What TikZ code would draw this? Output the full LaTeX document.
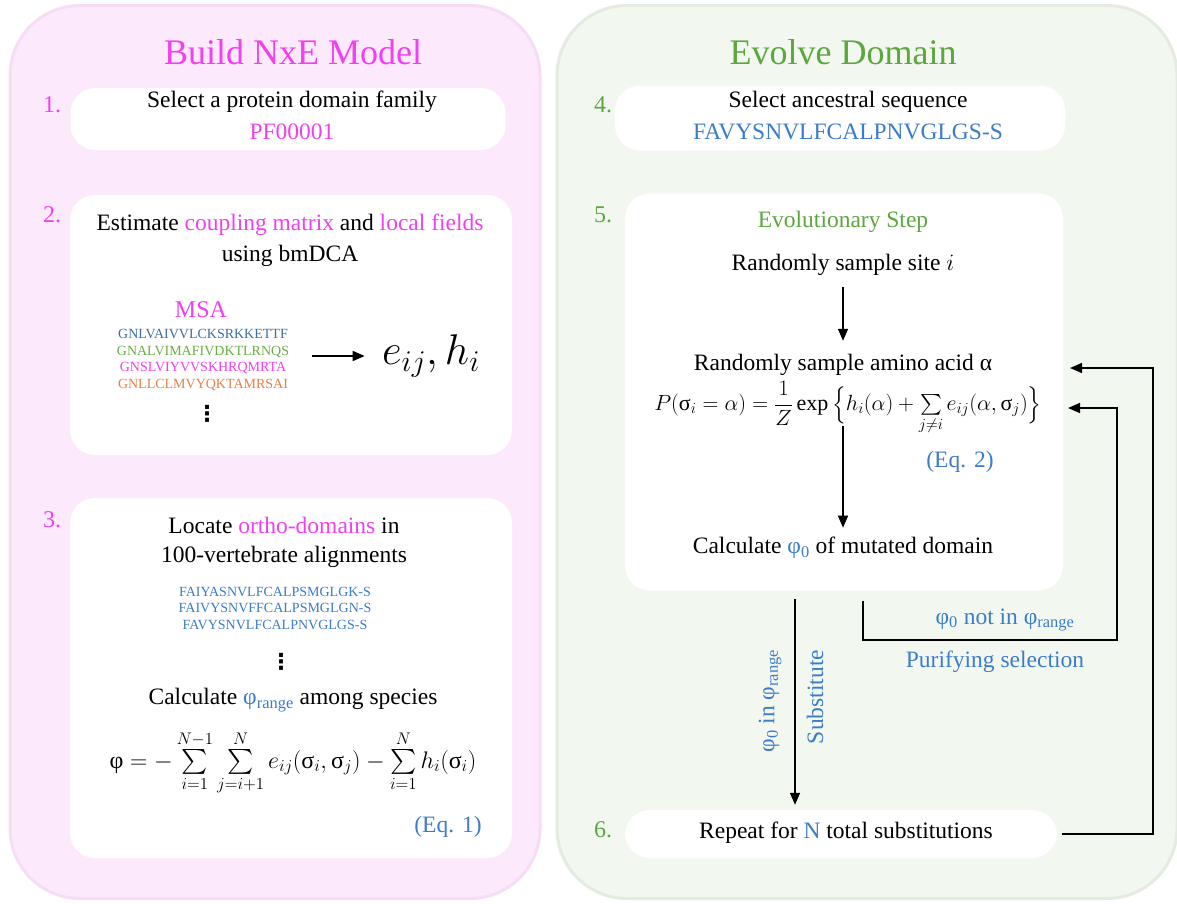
\RequirePackage{fix-cm}
\documentclass[tikz,border=0pt]{standalone}
\usepackage{amsmath}
\usepackage{fontspec}
\setmainfont{Liberation Serif}
\newfontfamily\dotsfont{DejaVu Sans}
\usetikzlibrary{positioning,arrows.meta}

\definecolor{nxepink}{HTML}{F23FEF}
\definecolor{nxegreen}{HTML}{5DA641}
\definecolor{nxeblue}{HTML}{3D7CC9}
\definecolor{pinkfill}{HTML}{FCEAFC}
\definecolor{pinkedge}{HTML}{F6DDF5}
\definecolor{greenfill}{HTML}{F2F8EF}
\definecolor{greenedge}{HTML}{E3ECDF}
\definecolor{seqslate}{HTML}{3F6E9A}
\definecolor{seqgreen}{HTML}{6AAE45}
\definecolor{seqorange}{HTML}{E8804A}

\newcommand{\sg}{\text{σ}}

\begin{document}
\begin{tikzpicture}[x=1pt, y=-1pt,
  font=\fontsize{23.5}{28}\selectfont,
  panel/.style={draw, line width=3pt, rounded corners=70pt},
  stepbox/.style={fill=white, rounded corners=25pt},
  steplabel/.style={font=\fontsize{24}{28}\selectfont},
  seq/.style={font=\fontsize{14}{16.5}\selectfont, align=center},
  dots/.style={font=\dotsfont\bfseries\fontsize{22}{24}\selectfont},
  arr/.style={-{Triangle[length=12pt,width=10pt]}, line width=1.5pt}]
\useasboundingbox (0,0) rectangle (1177,903);

% panels
\node[panel, draw=pinkedge, fill=pinkfill, minimum width=530pt, minimum height=893pt] (buildPanel) at (275,452) {};
\node[panel, draw=greenedge, fill=greenfill, minimum width=620pt, minimum height=893pt] (evolvePanel) at (867,452) {};
\node[text=nxepink, font=\fontsize{36}{40}\selectfont] (buildTitle) at (293,52) {Build NxE Model};
\node[text=nxegreen, font=\fontsize{36}{40}\selectfont] (evolveTitle) at (843,52) {Evolve Domain};

% left column
\node[stepbox, minimum width=435pt, minimum height=62pt] (famBox) at (288,119) {};
\node[steplabel, text=nxepink] (oneLbl) at (52,105) {1.};
\node (famText) at (292,102) {Select a protein domain family};
\node[text=nxepink] (famId) at (292,132) {PF00001};

\node[stepbox, minimum width=442pt, minimum height=260pt] (dcaBox) at (291,325) {};
\node[steplabel, text=nxepink] (twoLbl) at (52,215) {2.};
\node (dcaText) at (290,225) {Estimate {\color{nxepink}coupling matrix} and {\color{nxepink}local fields}};
\node (dcaText2) at (290,256) {using bmDCA};
\node[text=nxepink, font=\fontsize{24}{28}\selectfont] (msaLbl) at (201,310) {MSA};
\node[seq] (msaSeqs) at (203,360) {{\color{seqslate}GNLVAIVVLCKSRKKETTF}\\{\color{seqgreen}GNALVIMAFIVDKTLRNQS}\\{\color{nxepink}GNSLVIYVVSKHRQMRTA}\\{\color{seqorange}GNLLCLMVYQKTAMRSAI}};
\node[dots] (msaDots) at (207,414) {⋮};
\node[font=\fontsize{43}{48}\selectfont] (params) at (431,356) {$e_{ij},h_i$};
\coordinate (msaOut) at (312,356);
\draw[arr, shorten >=14pt] (msaOut) -- (params.west |- msaOut);

\node[stepbox, minimum width=442pt, minimum height=360pt] (orthoBox) at (291,678) {};
\node[steplabel, text=nxepink] (threeLbl) at (52,520) {3.};
\node[align=center] (orthoText) at (284,542) {Locate {\color{nxepink}ortho-domains} in\\[1pt]100-vertebrate alignments};
\node[seq, text=nxeblue] (orthoSeqs) at (275,608) {FAIYASNVLFCALPSMGLGK-S\\FAIVYSNVFFCALPSMGLGN-S\\FAVYSNVLFCALPNVGLGS-S};
\node[dots] (orthoDots) at (281,662) {⋮};
\node (rangeText) at (293,700) {Calculate {\color{nxeblue}φ\textsubscript{range}} among species};
\node[font=\fontsize{24}{28}\selectfont] (eqOne) at (293,763) {$\text{φ} = -\sum\limits_{i=1}^{N-1}\sum\limits_{j=i+1}^{N} e_{ij}(\sg_i,\sg_j) - \sum\limits_{i=1}^{N} h_i(\sg_i)$};
\node[text=nxeblue] (eqOneTag) at (448,827) {(Eq. 1)};

% right column
\node[stepbox, minimum width=450pt, minimum height=65pt] (ancBox) at (840,118) {};
\node[steplabel, text=nxegreen] (fourLbl) at (603,105) {4.};
\node (ancText) at (848,102) {Select ancestral sequence};
\node[text=nxeblue] (ancSeq) at (848,132) {FAVYSNVLFCALPNVGLGS-S};

\node[stepbox, minimum width=438pt, minimum height=397pt] (evoBox) at (844,392) {};
\node[steplabel, text=nxegreen] (fiveLbl) at (603,215) {5.};
\node[text=nxegreen] (evoTitle) at (843,222) {Evolutionary Step};
\node (siteText) at (843,265) {Randomly sample site $i$};
\node (aaText) at (843,365) {Randomly sample amino acid α};
\node[font=\fontsize{22}{26}\selectfont] (eqTwo) at (848,408) {$P(\sg_i=\alpha)=\dfrac{1}{Z}\exp\Big\{h_i(\alpha)+\sum\limits_{j\neq i} e_{ij}(\alpha,\sg_j)\Big\}$};
\node[text=nxeblue] (eqTwoTag) at (960,462) {(Eq. 2)};
\node (phiText) at (843,548) {Calculate {\color{nxeblue}φ\textsubscript{0}} of mutated domain};
\coordinate (siteOut) at (843,287);
\draw[arr] (siteOut) -- ([yshift=10pt]aaText.north);
\coordinate (eqOut) at (843,426);
\draw[arr] (eqOut) -- ([yshift=6pt]phiText.north);

\node[stepbox, minimum width=432pt, minimum height=48pt] (repBox) at (841,834) {};
\node[steplabel, text=nxegreen] (sixLbl) at (603,830) {6.};
\node (repText) at (846,833) {Repeat for {\color{nxeblue}N} total substitutions};

% substitution and selection loops
\coordinate (subX) at (795,0);
\draw[arr, shorten <=8pt, shorten >=5pt] (evoBox.south -| subX) -- (repBox.north -| subX);
\node[rotate=90, text=nxeblue] (keepLbl) at (770,701) {φ\textsubscript{0} in φ\textsubscript{range}};
\node[rotate=90, text=nxeblue] (subLbl) at (815,697) {Substitute};

\coordinate (purX) at (863,0);
\coordinate (purRight) at (1117,640);
\coordinate (eqIn) at (1068,408);
\draw[arr, shorten <=10pt] (evoBox.south -| purX) |- (purRight) |- (eqIn);
\node[text=nxeblue] (rejectLbl) at (1005,620) {φ\textsubscript{0} not in φ\textsubscript{range}};
\node[text=nxeblue] (purifyLbl) at (995,662) {Purifying selection};

\coordinate (loopTop) at (1153,368);
\coordinate (aaIn) at (1070,368);
\draw[arr, shorten <=5pt] (repBox.east) -| (loopTop) -- (aaIn);
\end{tikzpicture}
\end{document}
